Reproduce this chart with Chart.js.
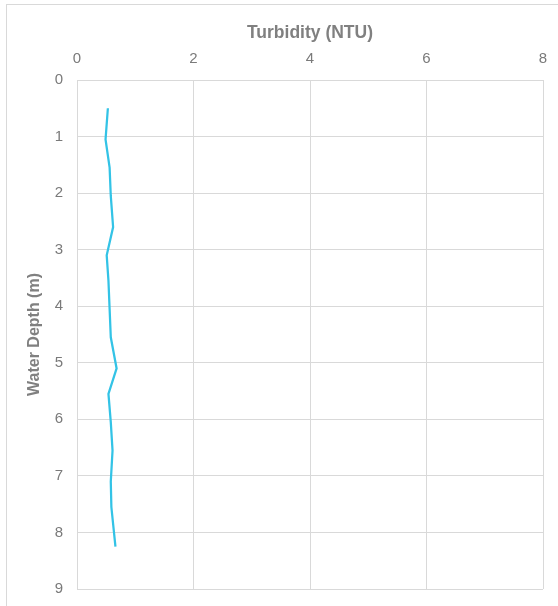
<!DOCTYPE html>
<html>
<head>
<meta charset="utf-8">
<script src="https://cdn.jsdelivr.net/npm/chart.js@4"></script>
<style>
  html, body { margin: 0; padding: 0; background: #fff; overflow: hidden; }
  #wrap { position: relative; width: 558px; height: 606px; }
  #frame { position: absolute; left: 6px; top: 4px; width: 600px; height: 700px; border: 1px solid #d9d9d9; box-sizing: border-box; }
  canvas { position: absolute; left: 0; top: 0; }
</style>
</head>
<body>
<div id="wrap">
  <div id="frame"></div>
  <canvas id="chart" width="558" height="606"></canvas>
</div>
<script>
// depth profile of turbidity
const depths = [0.5, 1.05, 1.55, 2.05, 2.6, 3.1, 3.55, 4.05, 4.55, 5.1, 5.55, 6.05, 6.55, 7.1, 7.55, 8.25];
const turbidity = [0.53, 0.49, 0.56, 0.58, 0.62, 0.51, 0.54, 0.56, 0.58, 0.68, 0.54, 0.58, 0.61, 0.58, 0.59, 0.66];
const xTicks = [0, 2, 4, 6, 8];
const yTicks = [0, 1, 2, 3, 4, 5, 6, 7, 8, 9];

const points = depths.map((d, i) => ({ x: turbidity[i], y: d }));

const canvas = document.querySelector('#chart');
const tickFont = { family: 'Arial, Liberation Sans', size: 15 };

new Chart(canvas, {
    type: 'scatter',
    data: {
        datasets: [{
            label: 'Turbidity',
            data: points,
            showLine: true,
            borderColor: '#33c3e6',
            borderWidth: 2.25,
            pointRadius: 0,
            tension: 0
        }]
    },
    options: {
        responsive: false,
        animation: false,
        plugins: { legend: { display: false }, tooltip: { enabled: false } },
        layout: { padding: { left: 20, top: 20, right: 15, bottom: 17 } },
        scales: {
            x: {
                position: 'top',
                min: 0, max: 8,
                afterBuildTicks: s => { s.ticks = xTicks.map(v => ({ value: v })); },
                afterFit: s => { s.height = 60; s.paddingLeft = 0; s.paddingRight = 0; },
                grid: { color: '#d9d9d9', drawTicks: false },
                border: { color: '#d9d9d9' },
                ticks: { color: '#7a7a7a', font: tickFont, padding: 12, maxRotation: 0 },
                title: {
                    display: true, text: 'Turbidity (NTU)', color: '#808080',
                    font: { family: 'Arial, Liberation Sans', size: 17.5, weight: 'bold' },
                    padding: { top: 3, bottom: 0 }
                }
            },
            y: {
                reverse: true,
                min: 0, max: 9,
                afterBuildTicks: s => { s.ticks = yTicks.map(v => ({ value: v })); },
                afterFit: s => { s.width = 57; s.paddingTop = 0; s.paddingBottom = 0; },
                grid: { color: '#d9d9d9', drawTicks: false },
                border: { color: '#d9d9d9' },
                ticks: { color: '#7a7a7a', font: tickFont, padding: 14 },
                title: {
                    display: true, text: 'Water Depth (m)', color: '#808080',
                    font: { family: 'Arial, Liberation Sans', size: 16, weight: 'bold' },
                    padding: { top: 5, bottom: 0 }
                }
            }
        }
    }
});
</script>
</body>
</html>
